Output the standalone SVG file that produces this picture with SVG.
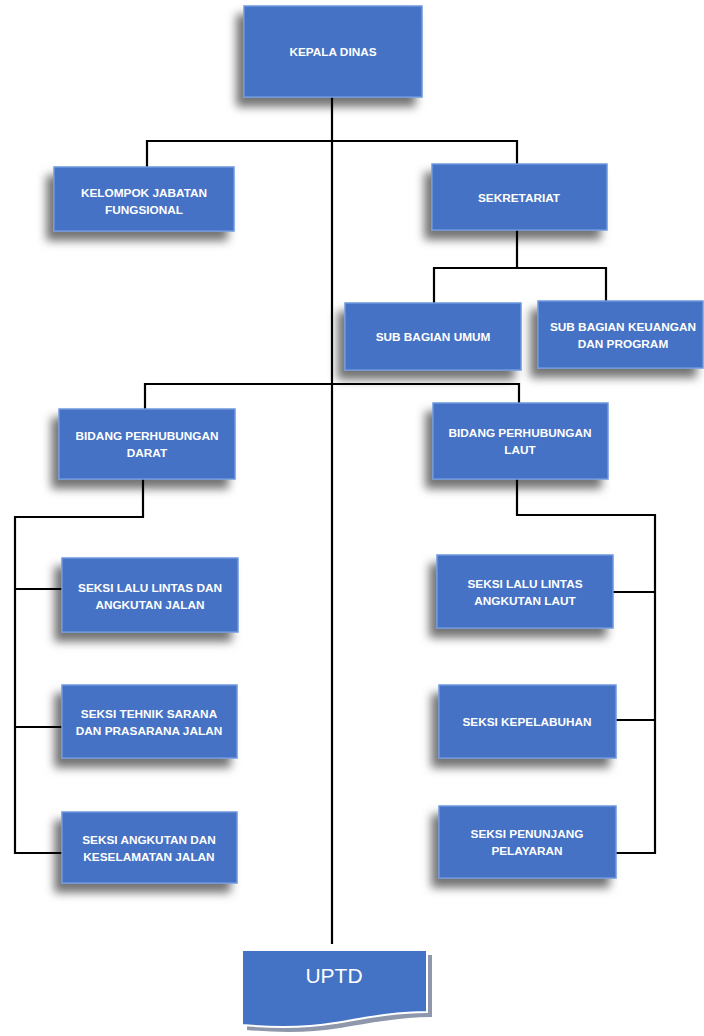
<svg xmlns="http://www.w3.org/2000/svg" width="704" height="1036" viewBox="0 0 704 1036">
<defs>
<filter id="sh" x="-30%" y="-30%" width="160%" height="180%">
<feDropShadow dx="-7" dy="9" stdDeviation="5" flood-color="#000" flood-opacity="0.55"/>
</filter>
<style>
.box{fill:#4472C4;stroke:#6f97dc;stroke-width:1.5;filter:url(#sh)}
.t{font-family:"Liberation Sans",Arial,sans-serif;font-weight:bold;font-size:11.8px;fill:#fff;text-anchor:middle}
.ln{stroke:#000;stroke-width:2.2;fill:none;stroke-linecap:square}
.u{font-family:"Liberation Sans",Arial,sans-serif;font-size:21px;fill:#fff;text-anchor:middle}
</style>
</defs>
<rect width="704" height="1036" fill="#fff"/>
<g id="connectors">
<path class="ln" d="M332 97V943"/>
<path class="ln" d="M147 167V141H517V164"/>
<path class="ln" d="M517 230V268M434 303V268H606V301"/>
<path class="ln" d="M145 409V384H519V403"/>
<path class="ln" d="M143 479V517H15V853H62M15 589H62M15 727H62"/>
<path class="ln" d="M517 479V515H655V853H616M613 592H655M616 720H655"/>
</g>
<g id="kepala-dinas"><rect class="box" x="244" y="6" width="178" height="91"/><text class="t" x="333" y="56">KEPALA DINAS</text></g>
<g id="kelompok"><rect class="box" x="54" y="167" width="180" height="64"/><text class="t" x="144" y="197">KELOMPOK JABATAN</text><text class="t" x="144" y="214">FUNGSIONAL</text></g>
<g id="sekretariat"><rect class="box" x="432" y="164" width="175" height="66"/><text class="t" x="519" y="202">SEKRETARIAT</text></g>
<g id="sub-umum"><rect class="box" x="345" y="303" width="176" height="67"/><text class="t" x="433" y="341">SUB BAGIAN UMUM</text></g>
<g id="sub-keuangan"><rect class="box" x="538" y="301" width="165" height="67"/><text class="t" x="623" y="331">SUB BAGIAN KEUANGAN</text><text class="t" x="623" y="348">DAN PROGRAM</text></g>
<g id="bidang-darat"><rect class="box" x="59" y="409" width="176" height="70"/><text class="t" x="147" y="440">BIDANG PERHUBUNGAN</text><text class="t" x="147" y="457">DARAT</text></g>
<g id="bidang-laut"><rect class="box" x="433" y="403" width="175" height="76"/><text class="t" x="520" y="437">BIDANG PERHUBUNGAN</text><text class="t" x="520" y="454">LAUT</text></g>
<g id="seksi-llaj"><rect class="box" x="62" y="558" width="176" height="74"/><text class="t" x="150" y="592">SEKSI LALU LINTAS DAN</text><text class="t" x="150" y="609">ANGKUTAN JALAN</text></g>
<g id="seksi-tehnik"><rect class="box" x="62" y="685" width="175" height="73"/><text class="t" x="149" y="718">SEKSI TEHNIK SARANA</text><text class="t" x="149" y="735">DAN PRASARANA JALAN</text></g>
<g id="seksi-angkutan"><rect class="box" x="62" y="812" width="175" height="71"/><text class="t" x="149" y="844">SEKSI ANGKUTAN DAN</text><text class="t" x="149" y="861">KESELAMATAN JALAN</text></g>
<g id="seksi-llal"><rect class="box" x="437" y="555" width="176" height="73"/><text class="t" x="525" y="588">SEKSI LALU LINTAS</text><text class="t" x="525" y="605">ANGKUTAN LAUT</text></g>
<g id="seksi-kepelabuhan"><rect class="box" x="439" y="685" width="177" height="73"/><text class="t" x="527" y="726">SEKSI KEPELABUHAN</text></g>
<g id="seksi-penunjang"><rect class="box" x="439" y="806" width="177" height="72"/><text class="t" x="527" y="838">SEKSI PENUNJANG</text><text class="t" x="527" y="855">PELAYARAN</text></g>
<g id="uptd">
<path d="M247 955H432V1017C400 1017 370 1023 340 1028C310 1033 280 1033 247 1030Z" fill="#8e97ab"/>
<path d="M242 950H427V1012C395 1012 365 1018 335 1023C305 1028 275 1028 242 1025Z" fill="#4472C4" stroke="#fff" stroke-width="2"/>
<text class="u" x="334" y="983">UPTD</text>
</g>
</svg>
